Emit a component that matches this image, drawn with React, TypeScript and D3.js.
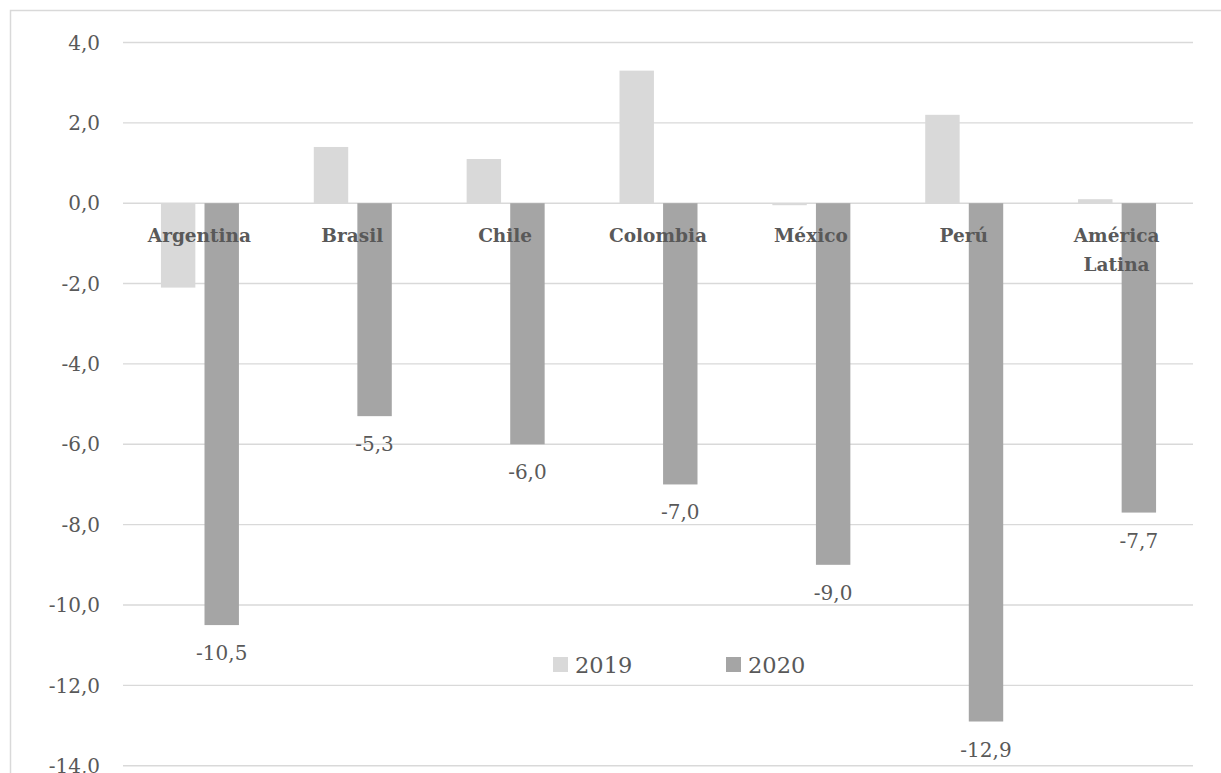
import { useEffect, useRef } from 'react';
import * as d3 from 'd3';

// PIB, variación anual (%)
const categories = ['Argentina', 'Brasil', 'Chile', 'Colombia', 'México', 'Perú', 'América Latina'];
const seriesNames = ['2019', '2020'];
const values2019 = [-2.1, 1.4, 1.1, 3.3, -0.05, 2.2, 0.1];
const values2020 = [-10.5, -5.3, -6.0, -7.0, -9.0, -12.9, -7.7];
const yTicks = [4, 2, 0, -2, -4, -6, -8, -10, -12, -14];

const colors = ['#d9d9d9', '#a5a5a5'];
const textColor = '#595959';
const font = "'DejaVu Serif', serif";

const fmt = (v: number) => v.toFixed(1).replace('.', ',');

function App() {
  const svgRef = useRef<SVGSVGElement>(null);

  useEffect(() => {
    const svg = d3.select(svgRef.current);
    svg.selectAll('*').remove();

    const width = 1221;
    const height = 773;
    const left = 123;
    const right = 1193;

    // frame
    svg
      .append('rect')
      .attr('x', 10.5)
      .attr('y', 10.5)
      .attr('width', 1230)
      .attr('height', 820)
      .attr('fill', 'none')
      .attr('stroke', '#d9d9d9')
      .attr('stroke-width', 1.5);

    const y = d3.scaleLinear().domain([-14, 4]).range([765.7, 42.5]);
    const x0 = d3.scaleBand<string>().domain(categories).range([left, right]).padding(0);
    const bw = x0.bandwidth();
    const x1 = d3
      .scaleBand<string>()
      .domain(seriesNames)
      .range([bw / 2 - 38.5, bw / 2 + 39.5])
      .paddingInner(0.21)
      .paddingOuter(0);

    // gridlines
    svg
      .append('g')
      .selectAll('line')
      .data(yTicks)
      .enter()
      .append('line')
      .attr('x1', left)
      .attr('x2', right)
      .attr('y1', (d) => y(d))
      .attr('y2', (d) => y(d))
      .attr('stroke', '#d9d9d9')
      .attr('stroke-width', 1.4);

    // y tick labels
    svg
      .append('g')
      .selectAll('text')
      .data(yTicks)
      .enter()
      .append('text')
      .attr('x', 100)
      .attr('y', (d) => y(d))
      .attr('dy', '0.36em')
      .attr('text-anchor', 'end')
      .attr('font-family', font)
      .attr('font-size', 20)
      .attr('fill', textColor)
      .text((d) => fmt(d));

    const table = categories.map((c, i) => ({
      category: c,
      values: [
        { key: '2019', value: values2019[i] },
        { key: '2020', value: values2020[i] },
      ],
    }));

    const groups = svg
      .append('g')
      .selectAll('g')
      .data(table)
      .enter()
      .append('g')
      .attr('transform', (d) => `translate(${x0(d.category)}, 0)`);

    groups
      .selectAll('rect')
      .data((d) => d.values)
      .enter()
      .append('rect')
      .attr('x', (d) => x1(d.key)!)
      .attr('width', x1.bandwidth())
      .attr('y', (d) => y(Math.max(0, d.value)))
      .attr('height', (d) => Math.abs(y(d.value) - y(0)))
      .attr('fill', (d, i) => colors[i]);

    // data labels for 2020
    groups
      .append('text')
      .attr('x', (d) => x1('2020')! + x1.bandwidth() / 2)
      .attr('y', (d) => y(d.values[1].value) + 35)
      .attr('text-anchor', 'middle')
      .attr('font-family', font)
      .attr('font-size', 20)
      .attr('fill', textColor)
      .text((d) => fmt(d.values[1].value));

    // category labels (on top of bars)
    const catLabels = svg
      .append('g')
      .selectAll('text')
      .data(categories)
      .enter()
      .append('text')
      .attr('x', (d) => x0(d)! + bw / 2)
      .attr('y', 242)
      .attr('text-anchor', 'middle')
      .attr('font-family', font)
      .attr('font-weight', 'bold')
      .attr('font-size', 18.5)
      .attr('fill', textColor);

    catLabels
      .selectAll('tspan')
      .data((d) => d.split(' '))
      .enter()
      .append('tspan')
      .attr('x', function () {
        return (this.parentNode as SVGTextElement).getAttribute('x');
      })
      .attr('dy', (d, i) => (i === 0 ? 0 : 29))
      .text((d) => d);

    // legend
    const legendX = [553, 726];
    const legend = svg
      .append('g')
      .selectAll('g')
      .data(seriesNames)
      .enter()
      .append('g')
      .attr('transform', (d, i) => `translate(${legendX[i]}, 657)`);

    legend
      .append('rect')
      .attr('width', 15)
      .attr('height', 15)
      .attr('fill', (d, i) => colors[i]);

    legend
      .append('text')
      .attr('x', 22)
      .attr('y', 16)
      .attr('font-family', font)
      .attr('font-size', 22.5)
      .attr('fill', textColor)
      .text((d) => d);

    svg.attr('width', width).attr('height', height);
  }, []);

  return (
    <div style={{ position: 'absolute', left: 0, top: 0 }}>
      <svg ref={svgRef} width={1221} height={773} style={{ display: 'block', background: '#fff' }} />
    </div>
  );
}

export default App;
